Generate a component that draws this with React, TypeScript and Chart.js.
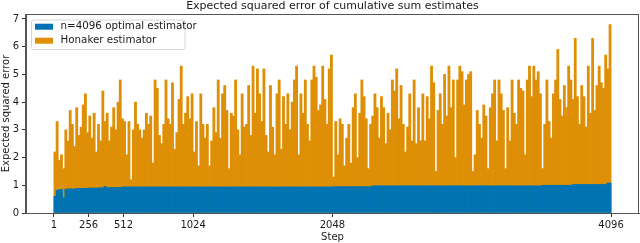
import React, { useEffect, useRef } from "react";
import { Chart, registerables } from "chart.js";

Chart.register(...registerables);

// Each bar covers a block of 16 consecutive steps (1..4096 -> 256 blocks)
const BUCKET_SIZE = 16;
const X_TICKS = [1, 256, 512, 1024, 2048, 4096];
const Y_TICKS = [0, 1, 2, 3, 4, 5, 6, 7];
const TITLE = "Expected squared error of cumulative sum estimates";
const X_LABEL = "Step";
const Y_LABEL = "Expected squared error";
const SERIES_NAMES = ["n=4096 optimal estimator", "Honaker estimator"];

const optimal = [
  0.6, 0.82, 0.84, 0.85, 0.55, 0.86, 0.87, 0.87, 0.87, 0.87, 0.89, 0.89, 0.89, 0.89, 0.89, 0.9,
  0.9, 0.9, 0.9, 0.9, 0.91, 0.91, 0.91, 0.96, 0.92, 0.92, 0.92, 0.92, 0.92, 0.92, 0.92, 0.94,
  0.94, 0.94, 0.94, 0.94, 0.94, 0.94, 0.94, 0.94, 0.94, 0.94, 0.94, 0.94, 0.94, 0.94, 0.94, 0.94,
  0.94, 0.94, 0.94, 0.94, 0.94, 0.94, 0.94, 0.94, 0.94, 0.94, 0.94, 0.94, 0.94, 0.94, 0.94, 0.94,
  0.94, 0.94, 0.94, 0.94, 0.94, 0.94, 0.94, 0.94, 0.94, 0.94, 0.94, 0.94, 0.94, 0.94, 0.94, 0.94,
  0.94, 0.94, 0.94, 0.94, 0.94, 0.94, 0.94, 0.94, 0.94, 0.94, 0.94, 0.94, 0.94, 0.94, 0.94, 0.94,
  0.94, 0.94, 0.94, 0.94, 0.94, 0.94, 0.94, 0.94, 0.94, 0.94, 0.94, 0.94, 0.94, 0.94, 0.94, 0.94,
  0.94, 0.94, 0.94, 0.94, 0.94, 0.94, 0.94, 0.94, 0.94, 0.94, 0.94, 0.94, 0.94, 0.94, 0.94, 0.94,
  0.95, 0.95, 0.95, 0.95, 0.95, 0.95, 0.95, 0.95, 0.95, 0.95, 0.95, 0.95, 0.95, 0.95, 0.95, 0.95,
  0.95, 0.95, 0.98, 0.98, 0.98, 0.98, 0.98, 0.98, 0.98, 0.98, 0.98, 0.98, 0.98, 0.98, 0.98, 0.98,
  0.98, 0.98, 0.98, 0.98, 0.98, 0.98, 0.98, 0.98, 0.98, 0.98, 0.98, 0.98, 0.98, 0.98, 0.98, 0.98,
  0.98, 0.98, 0.98, 0.98, 0.98, 0.98, 0.98, 0.98, 0.98, 0.98, 0.98, 0.98, 0.98, 0.98, 0.98, 0.98,
  0.98, 0.98, 0.98, 0.98, 0.98, 0.98, 0.98, 0.98, 0.98, 0.98, 0.98, 0.98, 0.98, 0.98, 0.98, 0.98,
  0.98, 0.98, 0.98, 0.98, 0.98, 0.98, 0.98, 0.98, 0.98, 0.98, 0.98, 0.98, 0.98, 0.98, 0.98, 0.98,
  1.0, 1.0, 1.0, 1.0, 1.0, 1.0, 1.0, 1.0, 1.0, 1.0, 1.0, 1.0, 1.0, 1.0, 1.03, 1.03,
  1.03, 1.03, 1.03, 1.03, 1.03, 1.03, 1.03, 1.03, 1.03, 1.03, 1.03, 1.03, 1.03, 1.03, 1.08, 1.08,
];

const honaker = [
  2.2, 3.3, 1.9, 2.1, 1.6, 3.0, 2.6, 3.7, 3.2, 2.4, 3.8, 2.8, 3.1, 3.9, 4.3, 2.9,
  3.5, 2.7, 3.6, 2.2, 3.2, 2.6, 4.4, 3.3, 3.6, 2.6, 3.1, 3.8, 3.0, 4.0, 4.8, 3.4,
  3.3, 2.1, 3.3, 1.2, 3.0, 4.0, 3.2, 3.0, 2.7, 3.0, 3.6, 3.2, 3.5, 1.8, 4.8, 4.5,
  2.8, 2.5, 3.2, 4.8, 3.4, 3.2, 4.7, 2.3, 2.9, 4.1, 5.3, 3.2, 3.6, 4.2, 3.4, 4.3,
  2.2, 3.3, 1.7, 4.3, 3.2, 2.7, 3.2, 1.7, 2.6, 3.8, 2.9, 4.8, 2.7, 4.3, 4.6, 3.7,
  1.6, 3.6, 3.5, 4.8, 3.0, 2.1, 4.3, 3.1, 3.2, 4.6, 2.8, 5.3, 3.6, 5.2, 4.3, 3.3,
  5.2, 2.8, 2.2, 4.6, 3.1, 2.1, 4.3, 4.8, 2.3, 4.2, 3.2, 4.3, 3.0, 4.0, 4.8, 5.3,
  2.1, 4.3, 3.6, 4.8, 3.2, 2.6, 4.8, 5.3, 4.9, 3.7, 3.9, 5.3, 4.1, 3.2, 5.2, 5.7,
  1.3, 3.3, 2.1, 3.4, 3.2, 1.7, 2.7, 3.2, 1.8, 3.8, 4.3, 2.0, 3.6, 4.8, 4.2, 3.4,
  1.6, 3.2, 3.5, 4.3, 3.8, 2.7, 4.2, 3.8, 2.5, 3.6, 3.0, 4.8, 4.4, 5.2, 3.4, 4.6,
  3.2, 2.2, 3.1, 4.3, 2.6, 4.8, 2.5, 3.8, 2.6, 4.3, 2.6, 4.2, 3.4, 5.3, 4.7, 1.5,
  3.7, 4.3, 3.2, 5.0, 3.5, 5.3, 3.8, 4.8, 2.0, 4.8, 5.3, 5.1, 3.9, 4.8, 5.0, 5.1,
  1.5, 2.1, 3.7, 3.2, 2.7, 3.9, 3.5, 1.6, 3.8, 4.3, 4.8, 2.6, 4.8, 4.3, 3.7, 1.6,
  3.8, 2.6, 4.8, 3.6, 3.2, 4.8, 4.5, 4.4, 2.1, 4.8, 5.3, 4.2, 5.3, 4.8, 5.1, 4.3,
  1.6, 3.2, 4.8, 3.3, 2.7, 4.3, 4.8, 5.9, 4.1, 3.5, 4.6, 3.8, 5.3, 4.8, 4.1, 6.3,
  4.2, 3.2, 4.6, 4.2, 3.1, 5.3, 3.6, 6.3, 3.7, 4.6, 5.3, 4.7, 4.5, 5.7, 5.2, 6.8,
];

// centre step of each 16-step block (block i spans steps 16i+1 .. 16i+16)
const blockCenters = honaker.map((_, i) => i * BUCKET_SIZE + BUCKET_SIZE / 2 + 0.5);

const BLUE = "#0173b2";
const ORANGE = "#de8f05";
const FONT_FAMILY = '"DejaVu Sans", sans-serif';
const TEXT_COLOR = "#1a1a1a";
const SPINE_COLOR = "#555";

const decorPlugin = {
  id: "decor",
  afterDraw(chart: any) {
    const { ctx, chartArea } = chart;
    const { left, right, top, bottom } = chartArea;
    ctx.save();
    // frame
    ctx.strokeStyle = SPINE_COLOR;
    ctx.lineWidth = 1;
    ctx.strokeRect(Math.round(left) - 0.5, Math.round(top) + 0.5, Math.round(right - left), Math.round(bottom - top));
    // title
    ctx.fillStyle = TEXT_COLOR;
    ctx.font = `11px ${FONT_FAMILY}`;
    ctx.textAlign = "center";
    ctx.textBaseline = "middle";
    ctx.fillText(TITLE, (left + right) / 2, 6);
    // legend
    const lx = left + 5.5;
    const ly = top + 6;
    const lw = 153.5;
    const lh = 29.5;
    ctx.beginPath();
    const r = 2;
    ctx.moveTo(lx + r, ly);
    ctx.lineTo(lx + lw - r, ly);
    ctx.quadraticCurveTo(lx + lw, ly, lx + lw, ly + r);
    ctx.lineTo(lx + lw, ly + lh - r);
    ctx.quadraticCurveTo(lx + lw, ly + lh, lx + lw - r, ly + lh);
    ctx.lineTo(lx + r, ly + lh);
    ctx.quadraticCurveTo(lx, ly + lh, lx, ly + lh - r);
    ctx.lineTo(lx, ly + r);
    ctx.quadraticCurveTo(lx, ly, lx + r, ly);
    ctx.closePath();
    ctx.fillStyle = "rgba(255,255,255,0.8)";
    ctx.fill();
    ctx.strokeStyle = "#d6d6d6";
    ctx.stroke();
    ctx.font = `10.3px ${FONT_FAMILY}`;
    ctx.textAlign = "left";
    ctx.textBaseline = "middle";
    chart.data.datasets.forEach((ds: any, i: number) => {
      const cy = ly + 6.7 + i * 14;
      ctx.fillStyle = ds.backgroundColor;
      ctx.fillRect(lx + 3.5, cy - 3, 18, 6);
      ctx.fillStyle = TEXT_COLOR;
      ctx.fillText(ds.label, lx + 29, cy);
    });
    ctx.restore();
  },
};

export default function App() {
  const canvasRef = useRef<HTMLCanvasElement | null>(null);

  useEffect(() => {
    if (!canvasRef.current) return;
    const font = { family: FONT_FAMILY, size: 10 };
    const chart = new Chart(canvasRef.current, {
      type: "bar",
      data: {
        datasets: [
          {
            label: SERIES_NAMES[0],
            data: optimal.map((v, i) => ({ x: blockCenters[i], y: v })),
            backgroundColor: BLUE,
            borderWidth: 0,
            barPercentage: 1,
            categoryPercentage: 1,
            grouped: false,
            order: 0,
          } as any,
          {
            label: SERIES_NAMES[1],
            data: honaker.map((v, i) => ({ x: blockCenters[i], y: v })),
            backgroundColor: ORANGE,
            borderWidth: 0,
            barPercentage: 1,
            categoryPercentage: 1,
            grouped: false,
            order: 1,
          } as any,
        ],
      },
      options: {
        animation: false,
        responsive: false,
        layout: { padding: { top: 14, right: 1, left: 0, bottom: 0 } },
        plugins: {
          legend: { display: false },
          title: { display: false },
          tooltip: { enabled: false },
        },
        scales: {
          x: {
            type: "linear",
            offset: false,
            min: -204.3,
            max: 4301.3,
            afterBuildTicks: (s: any) => {
              s.ticks = X_TICKS.map((v) => ({ value: v }));
            },
            afterFit: (s: any) => {
              s.height = 30;
            },
            ticks: {
              font,
              color: TEXT_COLOR,
              padding: 2,
              autoSkip: false,
              maxRotation: 0,
              callback: (v: any) => String(v),
            },
            grid: { drawOnChartArea: false, drawTicks: true, tickLength: 4, color: "#333", offset: false },
            border: { display: true, color: SPINE_COLOR },
            title: { display: true, text: X_LABEL, font, color: TEXT_COLOR, padding: { top: 0, bottom: 0 } },
          },
          y: {
            min: 0,
            max: 7.18,
            afterBuildTicks: (s: any) => {
              s.ticks = Y_TICKS.map((v) => ({ value: v }));
            },
            afterFit: (s: any) => {
              s.width = 26;
            },
            ticks: { font, color: TEXT_COLOR, padding: 3, callback: (v: any) => String(v) },
            grid: { drawOnChartArea: false, drawTicks: true, tickLength: 4, color: "#333" },
            border: { display: true, color: SPINE_COLOR },
            title: { display: true, text: Y_LABEL, font, color: TEXT_COLOR, padding: { top: 0, bottom: 0 } },
          },
        },
      } as any,
      plugins: [decorPlugin],
    });
    return () => chart.destroy();
  }, []);

  return (
    <div style={{ position: "absolute", left: 0, top: 0, width: 640, height: 243, background: "#fff" }}>
      <canvas ref={canvasRef} width={640} height={243} style={{ display: "block" }} />
    </div>
  );
}
